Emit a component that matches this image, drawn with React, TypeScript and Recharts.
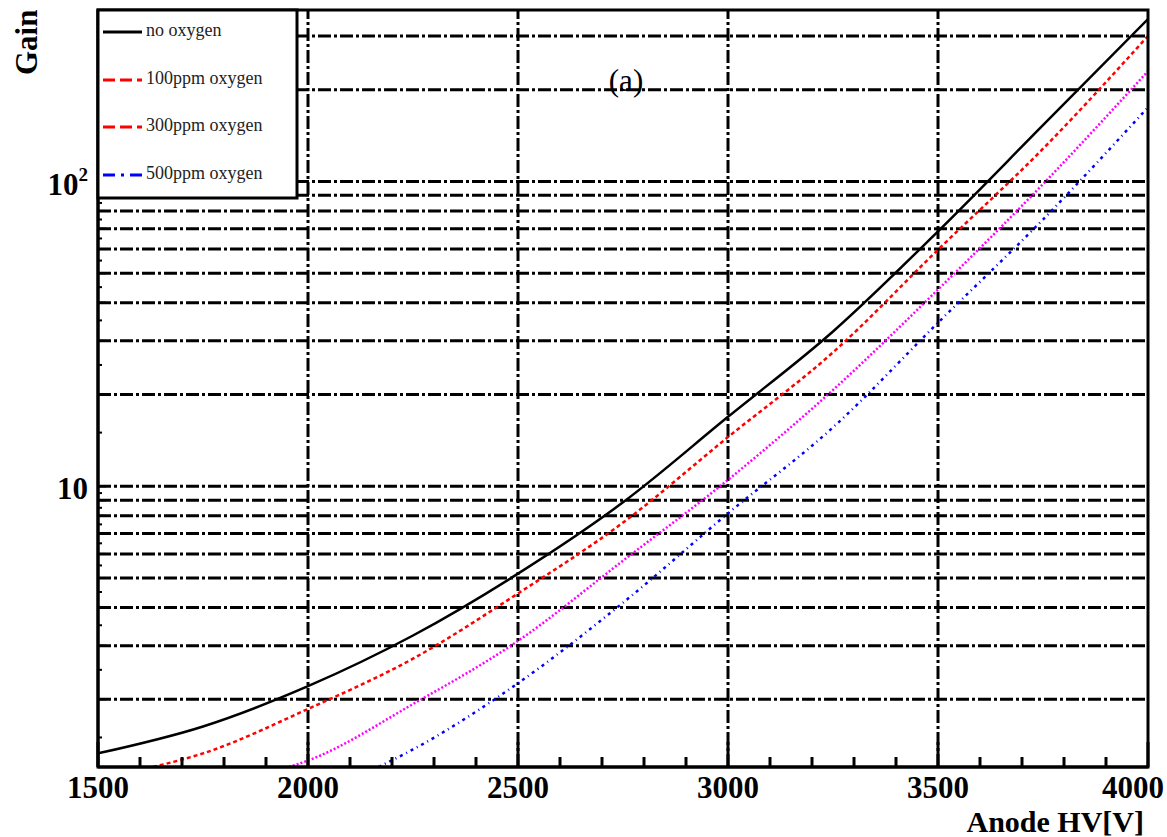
import React from 'react'
import { LineChart, Line, XAxis, YAxis, ReferenceLine } from 'recharts'

const FONT = '"Liberation Serif", "Times New Roman", serif'

// anode HV [V] and gain
const hvNoOxygen = [1500, 1750, 2000, 2250, 2500, 2750, 3000, 3250, 3500, 3750, 4000]
const gainNoOxygen = [1.33, 1.63, 2.21, 3.24, 5.17, 8.86, 16.9, 32.2, 68.6, 153, 341]

const hv100ppm = [1631, 1750, 2000, 2250, 2500, 2750, 3000, 3250, 3500, 3750, 4000]
const gain100ppm = [1.2, 1.33, 1.86, 2.72, 4.45, 7.6, 14.5, 27.5, 59.7, 128, 300]

const hv300ppm = [1955, 2000, 2250, 2500, 2750, 3000, 3250, 3500, 3750, 4000]
const gain300ppm = [1.2, 1.26, 1.93, 3.11, 5.7, 10.5, 20.7, 44.2, 98, 230]

const hv500ppm = [2168, 2250, 2500, 2750, 3000, 3250, 3500, 3750, 4000]
const gain500ppm = [1.2, 1.37, 2.26, 4.15, 8.15, 15.6, 34.4, 75, 175]

const legendLabels = ['no oxygen', '100ppm oxygen', '300ppm oxygen', '500ppm oxygen']

const xMajorTicks = [1500, 2000, 2500, 3000, 3500, 4000]
const xTicks = [
  1500, 1600, 1700, 1800, 1900, 2000, 2100, 2200, 2300, 2400, 2500, 2600, 2700,
  2800, 2900, 3000, 3100, 3200, 3300, 3400, 3500, 3600, 3700, 3800, 3900, 4000,
]
const gridHv = [2000, 2500, 3000, 3500]
const gridGain = [2, 3, 4, 5, 6, 7, 8, 9, 10, 20, 30, 40, 50, 60, 70, 80, 90, 100, 200, 300]
const yMinorTicks = [1.5, 2.5, 3.5, 4.5, 5.5, 6.5, 7.5, 8.5, 9.5, 15, 25, 35, 45, 55, 65, 75, 85, 95, 150, 250, 350]
const yTicks = [...gridGain, ...yMinorTicks].sort((a, b) => a - b)

const toRows = (hv: number[], gain: number[]) => hv.map((v, i) => ({ hv: v, gain: gain[i] }))

const W = 1167
const H = 837
// plot box: x 98..1148, y 10..767
const M = { top: 10, right: 19, bottom: 10, left: 8 }

function XTick(props: any) {
  const { x, y, payload } = props
  const major = xMajorTicks.includes(payload.value)
  const last = payload.value === 4000
  return (
    <g>
      <line x1={x} x2={x} y1={y} y2={y - (major ? 25 : 10)} stroke="#000" strokeWidth={3} />
      {major && (
        <text
          x={last ? W - 3 : x}
          y={y + 31}
          textAnchor={last ? 'end' : 'middle'}
          fontFamily={FONT}
          fontWeight="bold"
          fontSize={31}
          fill="#000"
        >
          {payload.value}
        </text>
      )}
    </g>
  )
}

function YTick(props: any) {
  const { x, y, payload } = props
  const v = payload.value
  const onGrid = gridGain.includes(v)
  return (
    <g>
      <line x1={x} x2={x + (onGrid ? 8 : 4)} y1={y} y2={y} stroke="#000" strokeWidth={2} />
      {v === 10 && (
        <text x={x - 10} y={y + 13} textAnchor="end" fontFamily={FONT} fontWeight="bold" fontSize={31} fill="#000">
          10
        </text>
      )}
      {v === 100 && (
        <text x={x - 10} y={y + 14} textAnchor="end" fontFamily={FONT} fontWeight="bold" fontSize={31} fill="#000">
          10<tspan fontSize={19} dy={-14}>2</tspan>
        </text>
      )}
    </g>
  )
}

export default function App() {
  const legendStyles = [
    { stroke: '#000000', dash: undefined },
    { stroke: '#ff0000', dash: '12 5' },
    { stroke: '#ff0000', dash: '12 5' },
    { stroke: '#0000ff', dash: '12 6 3 6' },
  ]
  const legendY = [32, 80, 127, 175]

  return (
    <div style={{ position: 'absolute', left: 0, top: 0, width: W, height: H, background: '#fff' }}>
      <LineChart width={W} height={H} margin={M}>
        <XAxis
          dataKey="hv"
          type="number"
          domain={[1500, 4000]}
          ticks={xTicks}
          interval={0}
          height={60}
          tickSize={0}
          tickMargin={0}
          tick={(p: any) => <XTick {...p} />}
          axisLine={{ stroke: '#000', strokeWidth: 3 }}
          allowDataOverflow
        />
        <YAxis
          dataKey="gain"
          type="number"
          scale="log"
          domain={[1.2, 365]}
          ticks={yTicks}
          interval={0}
          width={90}
          tickSize={0}
          tickMargin={0}
          tick={(p: any) => <YTick {...p} />}
          axisLine={{ stroke: '#000', strokeWidth: 3 }}
          allowDataOverflow
        />
        {gridGain.map((g) => (
          <ReferenceLine key={'gy' + g} y={g} stroke="#000" strokeWidth={3} strokeDasharray="13 3 3 3" />
        ))}
        {gridHv.map((v) => (
          <ReferenceLine key={'gx' + v} x={v} stroke="#000" strokeWidth={3} strokeDasharray="13 3 3 3" />
        ))}
        <Line
          data={toRows(hvNoOxygen, gainNoOxygen)}
          dataKey="gain"
          type="monotone"
          stroke="#000000"
          strokeWidth={2.5}
          dot={false}
          isAnimationActive={false}
        />
        <Line
          data={toRows(hv100ppm, gain100ppm)}
          dataKey="gain"
          type="monotone"
          stroke="#ff0000"
          strokeWidth={2.5}
          strokeDasharray="4 3"
          dot={false}
          isAnimationActive={false}
        />
        <Line
          data={toRows(hv300ppm, gain300ppm)}
          dataKey="gain"
          type="monotone"
          stroke="#ff00ff"
          strokeWidth={2.5}
          strokeDasharray="2 2"
          dot={false}
          isAnimationActive={false}
        />
        <Line
          data={toRows(hv500ppm, gain500ppm)}
          dataKey="gain"
          type="monotone"
          stroke="#0000ff"
          strokeWidth={2.5}
          strokeDasharray="3 4 1 4"
          dot={false}
          isAnimationActive={false}
        />
      </LineChart>

      <svg width={W} height={H} style={{ position: 'absolute', left: 0, top: 0, pointerEvents: 'none' }}>
        {/* frame */}
        <rect x={98} y={10} width={1050} height={757} fill="none" stroke="#000" strokeWidth={3} />
        {/* legend box */}
        <rect x={98} y={10} width={199} height={188} fill="#fff" stroke="#000" strokeWidth={3} />
        {legendLabels.map((label, i) => (
          <g key={label}>
            <line
              x1={103}
              x2={142}
              y1={legendY[i]}
              y2={legendY[i]}
              stroke={legendStyles[i].stroke}
              strokeWidth={3}
              strokeDasharray={legendStyles[i].dash}
            />
            <text x={146} y={legendY[i] + 4} fontFamily={FONT} fontSize={18} fill="#222">
              {label}
            </text>
          </g>
        ))}
        <text x={626} y={91} textAnchor="middle" fontFamily={FONT} fontSize={31} fill="#000">
          (a)
        </text>
        <text transform="translate(37,75) rotate(-90)" fontFamily={FONT} fontWeight="bold" fontSize={31} fill="#000">
          Gain
        </text>
        <text x={1144} y={832} textAnchor="end" fontFamily={FONT} fontWeight="bold" fontSize={30} fill="#000">
          Anode HV[V]
        </text>
      </svg>
    </div>
  )
}
